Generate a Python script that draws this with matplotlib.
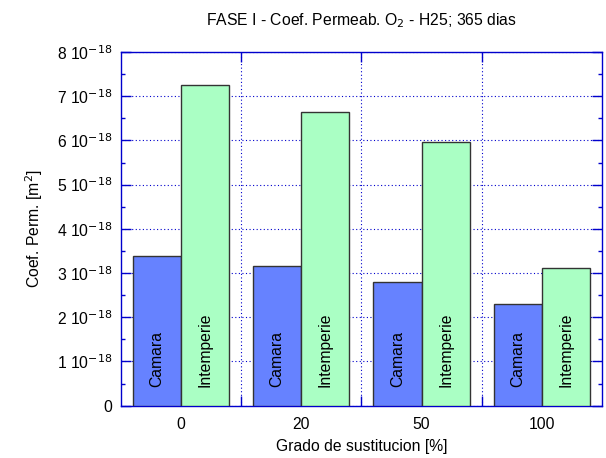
import numpy as np
import matplotlib
matplotlib.use('Agg')
import matplotlib.pyplot as plt
from matplotlib.ticker import MultipleLocator, FixedLocator

plt.rcParams['font.family'] = ['Liberation Sans', 'DejaVu Sans']

grados = ['0', '20', '50', '100']
camara = [3.39e-18, 3.15e-18, 2.79e-18, 2.29e-18]
intemperie = [7.26e-18, 6.64e-18, 5.96e-18, 3.12e-18]
series_names = ['Camara', 'Intemperie']

azul = '#6682FF'
verde = '#AAFFC4'
linea = '#0000CC'
fs = 11.3

fig = plt.figure(figsize=(6.06, 4.58), dpi=100)
ax = fig.add_axes([120.7 / 606, 1 - 405.7 / 458, 481.3 / 606, 353.7 / 458])

x = np.arange(len(grados))
w = 0.4
b1 = ax.bar(x - w / 2, camara, width=w, color=azul, edgecolor='#333333', linewidth=1, zorder=3)
b2 = ax.bar(x + w / 2, intemperie, width=w, color=verde, edgecolor='#333333', linewidth=1, zorder=3)

# nombres de las series dentro de las barras
for bars, name in [(b1, series_names[0]), (b2, series_names[1])]:
    for r in bars:
        ax.text(r.get_x() + r.get_width() / 2, 0.43e-18, name, rotation=90,
                ha='center', va='bottom', fontsize=fs, zorder=4)

ax.set_xlim(-0.5, 3.5)
ax.set_ylim(0, 8e-18)

ax.yaxis.set_minor_locator(MultipleLocator(0.5e-18))
yt = np.arange(0, 9) * 1e-18
ax.set_yticks(yt)
ax.set_yticklabels(['0'] + [r'%d 10$^{-18}$' % i for i in range(1, 9)])

ax.xaxis.set_major_locator(FixedLocator([0.5, 1.5, 2.5]))
ax.xaxis.set_minor_locator(FixedLocator(x))
ax.set_xticklabels([], minor=False)
ax.set_xticklabels(grados, minor=True)

ax.tick_params(axis='both', which='major', direction='in', length=7, color=linea,
               top=True, right=True, labelsize=fs, width=1)
ax.tick_params(axis='y', which='minor', direction='in', length=3, color=linea,
               right=True, width=1)
ax.tick_params(axis='x', which='minor', length=0, labelsize=fs, pad=8)
ax.tick_params(axis='y', which='major', pad=6)

ax.grid(True, which='major', color=linea, linestyle=(0, (1, 2.2)), linewidth=0.8, zorder=0)

for s in ax.spines.values():
    s.set_color(linea)
    s.set_linewidth(1)

ax.set_xlabel('Grado de sustitucion [%]', fontsize=fs, labelpad=5)
ax.set_ylabel('Coef. Perm. [m$^2$]', fontsize=fs, labelpad=9)
ax.set_title('FASE I - Coef. Permeab. O$_2$ - H25; 365 dias', fontsize=fs, pad=19)

plt.savefig('out.png', dpi=100)
